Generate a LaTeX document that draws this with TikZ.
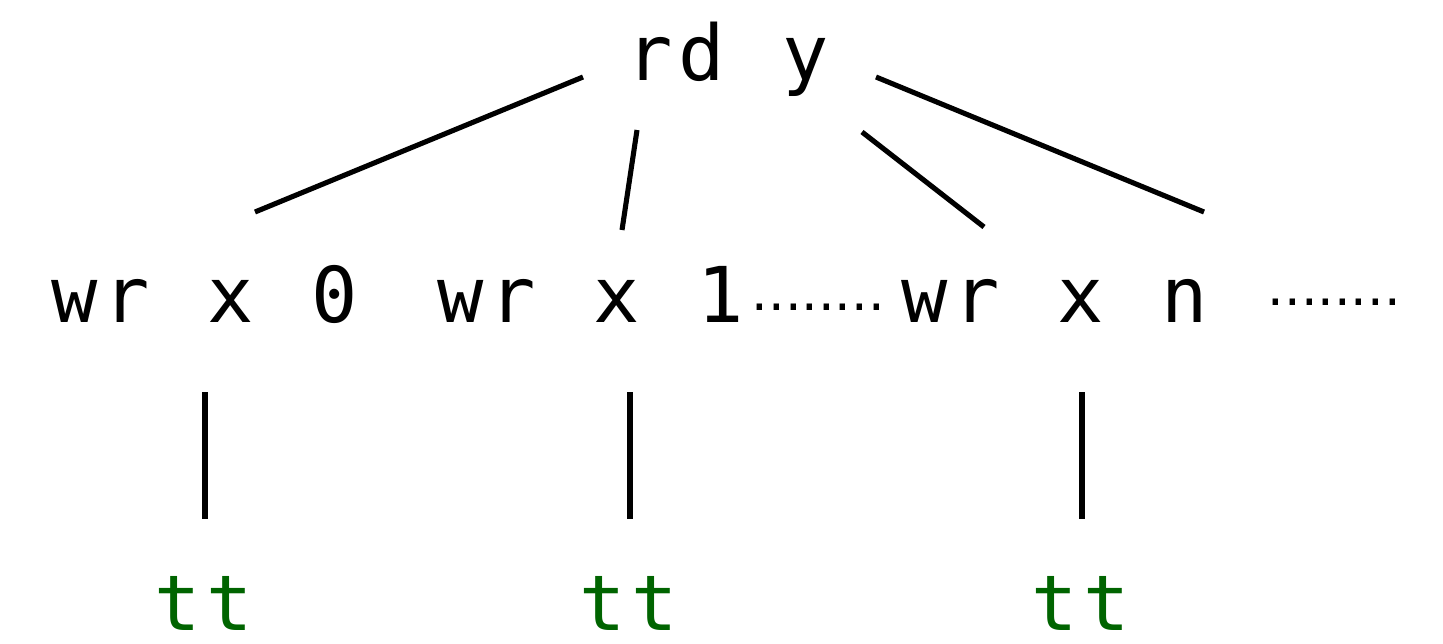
\documentclass[tikz,border=0pt]{standalone}
\usepackage{fontspec}
\newfontfamily\codefont{DejaVu Sans Mono}
\newfontfamily\dotfont{DejaVu Sans}
\definecolor{okgreen}{RGB}{0,100,0}

% fixed-pitch cells: each character sits in a box of width \cw, "_" is a blank cell
\newlength\cw
\setlength\cw{5.2mm}
\makeatletter
\def\cells#1{\cells@#1\relax}
\def\cells@#1{\ifx#1\relax\else\ifx#1_\makebox[\cw]{}\else\makebox[\cw]{#1}\fi\expandafter\cells@\fi}
\makeatother

\tikzset{
  code/.style={font=\codefont\fontsize{21.9pt}{26pt}\selectfont, inner sep=0pt, anchor=base},
  val/.style={code, text=okgreen},
  ell/.style={font=\dotfont\fontsize{14.9pt}{18pt}\selectfont, inner sep=0pt, anchor=base west},
  edge/.style={line width=1.45pt}
}

\begin{document}
\begin{tikzpicture}[x=0.1mm, y=-0.1mm]
  \useasboundingbox (0,0) rectangle (1443,643);

  % root
  \node[code] (rd) at (728,80) {\cells{rd_y}};

  % writes
  \node[code] (w0) at (205,322) {\cells{wr_x_0}};
  \node[code] (w1) at (591,322) {\cells{wr_x_1}};
  \node[code] (wn) at (1055,322) {\cells{wr_x_n}};
  \node[ell] (d1) at (751,310) {........};
  \node[ell] (d2) at (1267,305) {........};

  % results
  \node[val] (t0) at (204,630) {\cells{tt}};
  \node[val] (t1) at (629,630) {\cells{tt}};
  \node[val] (tn) at (1081,630) {\cells{tt}};

  % edge end points
  \coordinate (rd-a) at (583,77);
  \coordinate (rd-b) at (637,130);
  \coordinate (rd-c) at (862,132);
  \coordinate (rd-d) at (876,77);
  \coordinate (w0-up) at (255,212);
  \coordinate (w1-up) at (622,230);
  \coordinate (wn-up1) at (984,227);
  \coordinate (wn-up2) at (1204,212);
  \coordinate (w0-dn) at (205,392);
  \coordinate (w1-dn) at (630,392);
  \coordinate (wn-dn) at (1082,392);
  \coordinate (t0-up) at (205,519);
  \coordinate (t1-up) at (630,519);
  \coordinate (tn-up) at (1082,519);

  \draw[edge] (rd-a) -- (w0-up);
  \draw[edge] (rd-b) -- (w1-up);
  \draw[edge] (rd-c) -- (wn-up1);
  \draw[edge] (rd-d) -- (wn-up2);
  \draw[edge] (w0-dn) -- (t0-up);
  \draw[edge] (w1-dn) -- (t1-up);
  \draw[edge] (wn-dn) -- (tn-up);
\end{tikzpicture}
\end{document}
